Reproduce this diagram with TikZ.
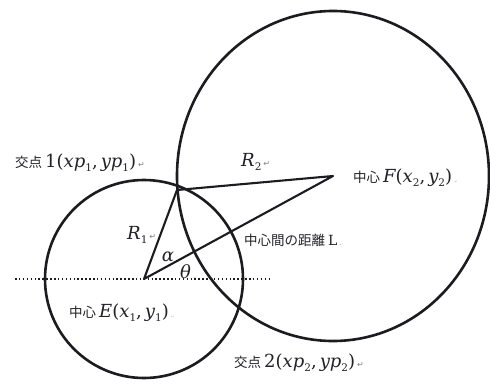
\documentclass[tikz,border=0pt]{standalone}
\usepackage{fontspec}
\setmainfont{DejaVu Serif}
\newfontfamily\cjk{Noto Sans CJK JP}
\newfontfamily\symfont{DejaVu Sans}
\newfontfamily\mfont{DejaVu Serif}
\definecolor{ink}{HTML}{1C1C20}
\definecolor{txt}{HTML}{222226}
\newcommand{\retmark}{{\symfont\fontsize{8}{8}\selectfont\color{gray}\hspace{2pt}↵}}
\newcommand{\parmark}{{\fontsize{7}{7}\selectfont\color{gray}\hspace{2pt}.\raisebox{1pt}{\fontsize{4}{4}\selectfont,}}}
\newcommand{\cj}[1]{{\cjk\fontsize{13.5}{15}\selectfont #1}}
\newcommand{\mv}[1]{{\itshape #1}}
\newcommand{\lowsub}[1]{\raisebox{-4pt}{\fontsize{10.5}{11}\selectfont\upshape #1}}
\newcommand{\mt}[1]{{\mfont\fontsize{18}{20}\selectfont #1}}
\begin{document}
\begin{tikzpicture}[x=1pt,y=1pt,
  circ/.style={draw=ink,line width=2.6pt},
  seg/.style={draw=ink,line width=2.1pt,line join=round},
  dotline/.style={draw=ink,line width=1.6pt,dash pattern=on 1.5pt off 2.4pt},
  lbl/.style={inner sep=0pt,anchor=west,text=txt}]
\useasboundingbox (0,0) rectangle (490,384);
\fill[white] (0,0) rectangle (490,384);
% key points
\coordinate (E) at (144,105);
\coordinate (F) at (333,208);
\coordinate (P1) at (177,194);
\coordinate (DL) at (15,105);
\coordinate (DR) at (272,105);
% circles
\draw[circ] (E) circle[radius=99];
\draw[circ] (F) ellipse[x radius=156,y radius=165];
% dotted horizontal
\draw[dotline] (DL) -- (DR);
% segments
\draw[seg] (E) -- (P1) -- (F) -- cycle;
% labels
\node[lbl] (t1) at (15,221) {\cj{交点}\hspace{3pt}\mt{1(\mv{xp}\lowsub{1},\hspace{3pt}\mv{yp}\lowsub{1})}\retmark};
\node[lbl] (r1) at (127,149) {\mt{\mv{R}\lowsub{1}}\retmark};
\node (al) at (168,127) [inner sep=0pt,text=txt] {\mt{\mv{α}}};
\node[lbl] (th) at (180,112) {\mt{\mv{θ}}\parmark};
\node[lbl] (r2) at (241,222) {\mt{\mv{R}\lowsub{2}}\retmark};
\node[lbl] (fl) at (353,206) {\cj{中心}\hspace{3pt}\mt{\mv{F}(\mv{x}\lowsub{2},\hspace{3pt}\mv{y}\lowsub{2})}\parmark};
\node[lbl] (ll) at (244,144) {\cj{中心間の距離}\hspace{3pt}{\mfont\fontsize{14}{16}\selectfont L}\parmark};
\node[lbl] (el) at (69,71) {\cj{中心}\hspace{3pt}\mt{\mv{E}(\mv{x}\lowsub{1},\hspace{3pt}\mv{y}\lowsub{1})}\parmark};
\node[lbl] (t2) at (234,21) {\cj{交点}\hspace{3pt}\mt{2(\mv{xp}\lowsub{2},\hspace{3pt}\mv{yp}\lowsub{2})}\retmark};
\end{tikzpicture}
\end{document}
